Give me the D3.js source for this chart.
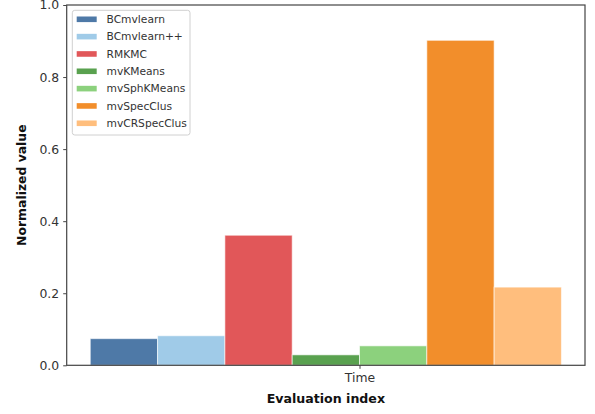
<!DOCTYPE html>
<html>
<head>
<meta charset="utf-8">
<script src="https://cdn.jsdelivr.net/npm/d3@7"></script>
<style>
  html, body { margin: 0; padding: 0; background: #fff; }
  svg { display: block; font-family: "DejaVu Sans", sans-serif; }
</style>
</head>
<body>
<svg id="chart" width="595" height="414"></svg>
<script>
// Evaluation index categories and methods
const indices = ["Time"];
const methods = ["BCmvlearn", "BCmvlearn++", "RMKMC", "mvKMeans", "mvSphKMeans", "mvSpecClus", "mvCRSpecClus"];
const colors = ["#4e79a7", "#a0cbe8", "#e15759", "#59a14f", "#8cd17d", "#f28e2b", "#ffbe7d"];
// Normalized value per method for "Time"
const timeValues = [0.074, 0.082, 0.361, 0.029, 0.054, 0.902, 0.217];
const yTicks = [0.0, 0.2, 0.4, 0.6, 0.8, 1.0];

const barWidth = 0.1;
const svg = d3.select("#chart");
const margin = { left: 66.7, right: 585, top: 5, bottom: 365.3 };

const x = d3.scaleLinear().domain([-0.435, 0.335]).range([margin.left, margin.right]);
const y = d3.scaleLinear().domain([0, 1]).range([margin.bottom, margin.top]);

// bars: each method offset from the index position
const bars = [];
indices.forEach((idx, k) => {
  methods.forEach((m, i) => {
    bars.push({ idx, m, i, pos: k + (i - 4) * barWidth, v: timeValues[i] });
  });
});

svg.append("g").selectAll("rect").data(bars).join("rect")
  .attr("x", d => x(d.pos))
  .attr("width", d => x(d.pos + barWidth) - x(d.pos))
  .attr("y", d => y(d.v))
  .attr("height", d => y(0) - y(d.v))
  .attr("fill", d => colors[d.i])
  .attr("stroke", "#fff")
  .attr("stroke-opacity", 0.6)
  .attr("stroke-width", 1);

// axes
const yAxis = d3.axisLeft(y).tickValues(yTicks).tickFormat(d3.format(".1f")).tickSize(3.5).tickPadding(4);
const gy = svg.append("g").attr("transform", `translate(${margin.left},0)`).call(yAxis);
gy.select(".domain").remove();
gy.selectAll("text").attr("font-size", 12.4).attr("fill", "#333").attr("font-family", "DejaVu Sans");
gy.selectAll("line").attr("stroke", "#444");

const xAxis = d3.axisBottom(d3.scaleOrdinal().domain(indices).range(indices.map((_, k) => x(k))))
  .tickSize(3.5).tickPadding(4);
const gx = svg.append("g").attr("transform", `translate(0,${margin.bottom})`).call(xAxis);
gx.select(".domain").remove();
gx.selectAll("text").attr("font-size", 12.4).attr("fill", "#333").attr("font-family", "DejaVu Sans");
gx.selectAll("line").attr("stroke", "#444");

// frame
svg.append("rect")
  .attr("x", margin.left).attr("y", margin.top)
  .attr("width", margin.right - margin.left).attr("height", margin.bottom - margin.top)
  .attr("fill", "none").attr("stroke", "#444").attr("stroke-width", 1.2);

// axis titles
svg.append("text")
  .attr("x", (margin.left + margin.right) / 2).attr("y", 403.3)
  .attr("text-anchor", "middle").attr("font-weight", "bold").attr("font-size", 12.6)
  .attr("fill", "#111")
  .text("Evaluation index");

svg.append("text")
  .attr("transform", `translate(26,${(margin.top + margin.bottom) / 2}) rotate(-90)`)
  .attr("text-anchor", "middle").attr("font-weight", "bold").attr("font-size", 12.4)
  .attr("fill", "#111")
  .text("Normalized value");

// legend
const legend = svg.append("g");
legend.append("rect")
  .attr("x", 72.3).attr("y", 10.3).attr("width", 117.7).attr("height", 124.7)
  .attr("rx", 2.5).attr("fill", "#fff").attr("fill-opacity", 0.8)
  .attr("stroke", "#d0d0d0").attr("stroke-width", 1);

const rows = legend.selectAll("g.item").data(methods).join("g")
  .attr("class", "item")
  .attr("transform", (d, i) => `translate(0,${19.3 + i * 17.33})`);
rows.append("rect")
  .attr("x", 76.7).attr("y", -2.8).attr("width", 20).attr("height", 5.6)
  .attr("fill", (d, i) => colors[i]);
rows.append("text")
  .attr("x", 106.5).attr("y", 3.8)
  .attr("font-size", 10.7).attr("fill", "#333")
  .text(d => d);
</script>
</body>
</html>
